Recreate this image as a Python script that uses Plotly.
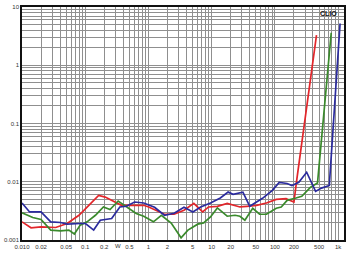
import plotly.graph_objects as go

# Power (W) and THD values
red_p = [0.010, 0.0139, 0.0200, 0.0341, 0.0518, 0.0796, 0.114, 0.163, 0.207, 0.295, 0.374, 0.568, 0.842, 1.01, 1.44, 1.79, 2.55, 3.65, 5.22, 7.19, 8.92, 12.3, 17.6, 28.0, 35.9, 51.4, 73.5, 105, 150, 200, 223, 266, 455]
red_t = [0.00205, 0.00162, 0.00168, 0.00164, 0.00192, 0.00266, 0.00394, 0.00583, 0.00546, 0.00449, 0.00394, 0.00394, 0.00394, 0.00369, 0.00303, 0.00277, 0.00277, 0.00324, 0.00426, 0.00303, 0.00369, 0.00379, 0.00426, 0.00369, 0.00379, 0.00394, 0.00432, 0.00499, 0.00513, 0.00449, 0.01136, 0.0448, 3.30]

green_p = [0.010, 0.0148, 0.0200, 0.0285, 0.0407, 0.0551, 0.0673, 0.0834, 0.107, 0.145, 0.194, 0.247, 0.332, 0.448, 0.640, 0.842, 1.20, 1.60, 2.29, 3.28, 4.21, 6.02, 7.46, 9.58, 12.3, 17.6, 23.4, 28.0, 33.5, 44.6, 57.3, 73.5, 105, 126, 156, 215, 266, 367, 472, 778]
green_t = [0.00292, 0.00243, 0.00225, 0.00148, 0.00144, 0.00148, 0.00127, 0.0018, 0.00205, 0.00266, 0.00369, 0.00333, 0.00467, 0.00369, 0.00285, 0.00256, 0.00205, 0.00266, 0.00195, 0.00109, 0.00148, 0.00187, 0.00197, 0.00249, 0.00355, 0.00256, 0.00266, 0.00256, 0.00219, 0.00351, 0.00277, 0.00277, 0.00351, 0.00369, 0.0048, 0.00525, 0.00561, 0.00807, 0.00952, 3.61]

blue_p = [0.010, 0.0132, 0.0200, 0.0285, 0.0407, 0.0518, 0.0825, 0.101, 0.136, 0.173, 0.262, 0.353, 0.448, 0.604, 0.842, 1.25, 1.79, 2.55, 3.65, 5.04, 6.70, 9.58, 13.7, 18.2, 21.8, 31.2, 40.0, 51.4, 63.7, 91.2, 117, 156, 186, 239, 318, 440, 545, 725, 1074]
blue_t = [0.00432, 0.00303, 0.00303, 0.00205, 0.00200, 0.00187, 0.00192, 0.00192, 0.00148, 0.00219, 0.00234, 0.00369, 0.00379, 0.00449, 0.00432, 0.00365, 0.00266, 0.00288, 0.00365, 0.00303, 0.00369, 0.00432, 0.00525, 0.00664, 0.00607, 0.00664, 0.00379, 0.00449, 0.00519, 0.0071, 0.0097, 0.00933, 0.00863, 0.0098, 0.01455, 0.00682, 0.00777, 0.00863, 5.2]

x_tickvals = [0.01, 0.02, 0.05, 0.1, 0.2, 0.5, 1, 2, 5, 10, 20, 50, 100, 200, 500, 1000]
x_ticktext = ["0.010", "0.02", "0.05", "0.1", "0.2", "0.5", "1", "2", "5", "10", "20", "50", "100", "200", "500", "1k"]
y_tickvals = [0.001, 0.01, 0.1, 1, 10]
y_ticktext = ["0.001", "0.01", "0.1", "1", "10"]

x_grid = [m * 10 ** e for e in range(-2, 4) for m in range(1, 10)]
y_grid = [m * 10 ** e for e in range(-3, 1) for m in range(1, 10)]

fig = go.Figure()
for px, ty, col in [(red_p, red_t, "#e2262b"), (green_p, green_t, "#3a8a2c"), (blue_p, blue_t, "#2b2b9e")]:
    fig.add_trace(go.Scatter(x=px, y=ty, mode="lines", line=dict(color=col, width=1.7), showlegend=False))

grid_col = "#8f8f8f"
fig.update_layout(
    width=350, height=254,
    margin=dict(l=18, r=4, t=5, b=14),
    paper_bgcolor="white", plot_bgcolor="white",
    font=dict(family="Liberation Sans, Arial, sans-serif", size=6, color="#333"),
    xaxis=dict(type="log", range=[-2, 3.093], tickmode="array", tickvals=x_tickvals, ticktext=x_ticktext,
               showgrid=True, gridcolor=grid_col, gridwidth=1, ticks="", ticklen=0,
               showline=True, mirror=True, linecolor="#111", linewidth=1.5,
               minor=dict(tickmode="array", tickvals=x_grid, showgrid=True, gridcolor=grid_col, gridwidth=1),
               zeroline=False, tickfont=dict(size=6)),
    yaxis=dict(type="log", range=[-3, 1], tickmode="array", tickvals=y_tickvals, ticktext=y_ticktext,
               showgrid=True, gridcolor=grid_col, gridwidth=1, ticks="", ticklen=0,
               showline=True, mirror=True, linecolor="#111", linewidth=1.5,
               minor=dict(tickmode="array", tickvals=y_grid, showgrid=True, gridcolor=grid_col, gridwidth=1),
               zeroline=False, tickfont=dict(size=6)),
    annotations=[
        dict(text="W", xref="x", yref="paper", x=-0.48, y=-0.027, showarrow=False,
             font=dict(size=6, color="#333"), xanchor="center", yanchor="middle"),
        dict(text="<b>CLIO</b>", xref="x", yref="paper", x=2.845, y=0.974, showarrow=False,
             font=dict(size=7, color="#111"), xanchor="center", yanchor="middle"),
    ],
)

fig.write_html("out.html")
